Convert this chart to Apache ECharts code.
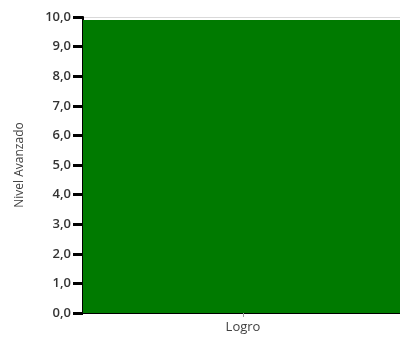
<!DOCTYPE html>
<html>
<head>
<meta charset="utf-8">
<script src="https://cdn.jsdelivr.net/npm/echarts@6/dist/echarts.min.js"></script>
<style>
html, body { margin: 0; padding: 0; background: #fff; overflow: hidden; }
#chart { width: 440px; height: 338px; }
</style>
</head>
<body>
<div id="chart"></div>
<script>
var categories = ['Logro'];
var values = [9.9];
var yTicks = [0, 10, 1];

var chart = echarts.init(document.getElementById('chart'));
var option = {
    animation: false,
    grid: {
        left: 83,
        right: 37,
        top: 17,
        bottom: 25
    },
    xAxis: {
        type: 'category',
        data: categories,
        axisLine: { lineStyle: { color: '#000', width: 2 } },
        axisTick: { show: true, alignWithLabel: true, length: 4, lineStyle: { color: '#999' } },
        axisLabel: {
            color: '#404040',
            fontFamily: 'Open Sans',
            fontSize: 13,
            margin: 8
        }
    },
    yAxis: {
        type: 'value',
        min: yTicks[0],
        max: yTicks[1],
        interval: yTicks[2],
        name: 'Nivel Avanzado',
        nameLocation: 'middle',
        nameGap: 57,
        nameTextStyle: {
            color: '#404040',
            fontFamily: 'Open Sans',
            fontSize: 12
        },
        axisLine: { show: true, lineStyle: { color: '#000', width: 2 } },
        axisTick: { show: true, length: 10, lineStyle: { color: '#000', width: 3 } },
        splitLine: { show: true, lineStyle: { color: '#d9d9d9', width: 1 } },
        axisLabel: {
            color: '#333',
            fontFamily: 'Open Sans',
            fontSize: 13,
            fontWeight: 600,
            margin: 12,
            formatter: function (v) {
                return v.toFixed(1).replace('.', ',');
            }
        }
    },
    series: [{
        type: 'bar',
        data: values,
        barWidth: '100%',
        itemStyle: { color: '#007a00' }
    }]
};
chart.setOption(option);
</script>
</body>
</html>
